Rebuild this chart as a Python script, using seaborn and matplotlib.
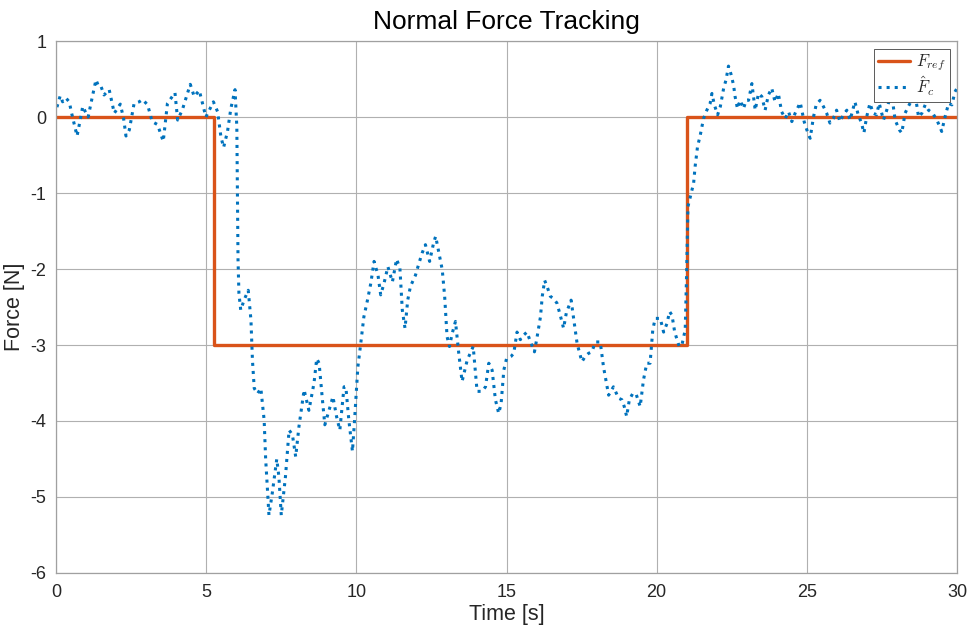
import matplotlib
matplotlib.use("Agg")
import matplotlib.pyplot as plt
import seaborn as sns
import numpy as np
import pandas as pd

# ---------------- data ----------------
ref_time = [0.0, 5.25, 21.0, 30.0]
ref_force = [0.0, -3.0, 0.0, 0.0]

est_time = [
    0.03, 0.14, 0.22, 0.33, 0.44, 0.52, 0.70, 0.80, 0.89, 1.00, 1.07, 1.20, 1.33, 1.42, 1.50,
    1.60, 1.77, 1.94, 2.14, 2.25, 2.33, 2.44, 2.60, 2.77, 2.88, 3.05, 3.20, 3.38, 3.57, 3.71,
    3.96, 4.05, 4.21, 4.47, 4.60, 4.77, 4.99, 5.24, 5.38, 5.49, 5.58, 5.71, 5.82, 5.96, 6.02,
    6.04, 6.06, 6.09, 6.15, 6.26, 6.40, 6.49, 6.54, 6.60, 6.71, 6.82, 6.93, 6.98, 7.09, 7.20,
    7.35, 7.42, 7.50, 7.64, 7.76, 7.87, 7.98, 8.09, 8.26, 8.42, 8.59, 8.68, 8.76, 8.87, 8.95,
    9.09, 9.22, 9.34, 9.45, 9.59, 9.65, 9.75, 9.87, 9.94, 10.05, 10.14, 10.25, 10.37, 10.48, 10.59,
    10.72, 10.81, 10.92, 11.05, 11.20, 11.34, 11.45, 11.53, 11.62, 11.71, 11.80, 11.97, 12.08, 12.19, 12.30,
    12.44, 12.57, 12.64, 12.75, 12.86, 12.94, 13.02, 13.10, 13.19, 13.30, 13.41, 13.52, 13.69, 13.89, 14.02,
    14.19, 14.30, 14.41, 14.52, 14.63, 14.74, 14.82, 14.91, 15.00, 15.15, 15.24, 15.35, 15.46, 15.57, 15.68,
    15.80, 15.93, 16.02, 16.13, 16.19, 16.27, 16.35, 16.46, 16.57, 16.68, 16.79, 16.90, 16.99, 17.15, 17.24,
    17.35, 17.51, 17.62, 17.73, 17.84, 17.96, 18.12, 18.23, 18.40, 18.56, 18.73, 18.84, 18.92, 19.00, 19.09,
    19.20, 19.31, 19.45, 19.56, 19.67, 19.78, 19.87, 19.95, 20.12, 20.23, 20.34, 20.43, 20.51, 20.60, 20.75,
    20.84, 20.95, 21.00, 21.04, 21.12, 21.23, 21.28, 21.36, 21.45, 21.56, 21.67, 21.78, 21.84, 21.92, 22.03,
    22.12, 22.23, 22.31, 22.39, 22.47, 22.56, 22.61, 22.69, 22.78, 22.89, 22.98, 23.06, 23.17, 23.28, 23.39,
    23.50, 23.61, 23.72, 23.83, 23.94, 24.05, 24.16, 24.28, 24.39, 24.50, 24.61, 24.78, 24.91, 25.00, 25.11,
    25.22, 25.31, 25.44, 25.55, 25.66, 25.77, 25.88, 25.99, 26.10, 26.22, 26.33, 26.44, 26.60, 26.71, 26.82,
    26.90, 26.99, 27.10, 27.21, 27.32, 27.41, 27.55, 27.66, 27.77, 27.82, 27.94, 28.08, 28.16, 28.27, 28.38,
    28.49, 28.60, 28.72, 28.83, 28.94, 29.05, 29.19, 29.33, 29.43, 29.49, 29.60, 29.72, 29.83, 29.93, 30.00,
]
est_force = [
    0.13, 0.28, 0.20, 0.25, 0.20, 0.05, -0.25, -0.05, 0.14, 0.05, 0.00, 0.25, 0.49, 0.40, 0.40,
    0.29, 0.36, 0.05, 0.17, -0.02, -0.25, -0.17, 0.18, 0.20, 0.23, 0.16, -0.06, -0.10, -0.32, 0.18,
    0.32, -0.04, 0.10, 0.43, 0.27, 0.35, 0.00, 0.20, 0.07, -0.26, -0.40, -0.19, 0.11, 0.36, -0.13,
    -1.00, -1.88, -2.32, -2.54, -2.41, -2.28, -2.67, -3.20, -3.57, -3.64, -3.57, -3.99, -4.50, -5.24, -4.95,
    -4.50, -4.73, -5.24, -4.73, -4.12, -4.18, -4.47, -4.07, -3.59, -3.86, -3.50, -3.18, -3.24, -3.72, -4.05,
    -3.86, -3.68, -3.94, -4.12, -3.55, -3.55, -3.99, -4.40, -3.99, -3.29, -3.00, -2.63, -2.41, -2.19, -1.90,
    -2.08, -2.34, -2.19, -1.97, -2.17, -1.87, -1.99, -2.54, -2.78, -2.41, -2.23, -2.08, -1.93, -1.79, -1.68,
    -1.90, -1.66, -1.57, -1.79, -2.01, -2.36, -2.89, -3.02, -2.85, -2.69, -3.11, -3.48, -3.20, -3.02, -3.61,
    -3.61, -3.55, -3.24, -3.33, -3.72, -3.90, -3.77, -3.33, -3.18, -3.15, -3.11, -2.83, -2.93, -2.87, -2.83,
    -2.96, -3.09, -2.89, -2.63, -2.36, -2.15, -2.23, -2.36, -2.39, -2.45, -2.61, -2.78, -2.58, -2.41, -2.67,
    -2.98, -3.22, -3.15, -3.11, -3.09, -2.96, -2.96, -3.29, -3.66, -3.55, -3.70, -3.72, -3.81, -3.94, -3.72,
    -3.64, -3.64, -3.81, -3.46, -3.24, -3.24, -2.80, -2.65, -2.65, -2.83, -2.72, -2.56, -2.61, -2.83, -3.02,
    -3.00, -2.80, -2.00, -1.18, -1.05, -0.87, -0.65, -0.39, -0.24, -0.02, 0.09, 0.18, 0.31, 0.16, 0.03,
    0.14, 0.38, 0.49, 0.67, 0.57, 0.42, 0.27, 0.11, 0.22, 0.11, 0.22, 0.22, 0.44, 0.09, 0.31,
    0.27, 0.09, 0.29, 0.38, 0.20, 0.31, 0.07, -0.02, 0.07, -0.06, 0.05, 0.19, -0.06, -0.17, -0.28,
    0.00, 0.16, 0.22, 0.14, 0.05, -0.08, -0.02, 0.09, -0.06, 0.03, 0.09, -0.04, 0.20, 0.03, -0.08,
    -0.21, 0.00, 0.18, 0.05, 0.03, 0.18, -0.04, 0.09, 0.27, 0.31, -0.04, -0.17, -0.21, 0.05, 0.14,
    0.22, 0.31, 0.00, 0.05, 0.16, 0.09, 0.05, -0.04, -0.13, -0.19, 0.00, 0.18, 0.16, 0.33, 0.38,
]

x_ticks = [0, 5, 10, 15, 20, 25, 30]
y_ticks = [1, 0, -1, -2, -3, -4, -5, -6]

ref_df = pd.DataFrame({"t": ref_time, "f": ref_force})
est_df = pd.DataFrame({"t": est_time, "f": est_force})

# ---------------- style ----------------
sns.set_theme(style="whitegrid")
plt.rcParams["font.family"] = ["Liberation Sans", "DejaVu Sans"]
plt.rcParams["mathtext.fontset"] = "cm"

fig = plt.figure(figsize=(9.71, 6.33), dpi=100)
ax = fig.add_axes([0.0577, 0.0948, 0.9279, 0.8404])

orange = "#D95319"
blue = "#0072BD"

sns.lineplot(data=ref_df, x="t", y="f", ax=ax, color=orange, linewidth=2.4,
             drawstyle="steps-post", estimator=None, sort=False, label=r"$F_{ref}$")
sns.lineplot(data=est_df, x="t", y="f", ax=ax, color=blue, linewidth=2.2,
             linestyle=":", estimator=None, sort=False, label=r"$\hat{F}_c$")

ax.set_xlim(0, 30)
ax.set_ylim(-6, 1)
ax.set_xticks(x_ticks)
ax.set_yticks(y_ticks)
ax.set_xticklabels([str(v) for v in x_ticks])
ax.set_yticklabels([str(v) for v in y_ticks])

ax.grid(True, color="#b0b0b0", linewidth=0.8)
ax.set_axisbelow(True)
for sp in ax.spines.values():
    sp.set_color("#a0a0a0")
    sp.set_linewidth(0.9)
ax.tick_params(axis="x", length=0, labelsize=13, colors="#262626", pad=8)
ax.tick_params(axis="y", length=0, labelsize=13, colors="#262626", pad=7)

ax.set_title("Normal Force Tracking", fontsize=19, color="black", pad=9)
ax.set_xlabel("Time [s]", fontsize=15.5, color="#262626", labelpad=2)
ax.set_ylabel("Force [N]", fontsize=15.5, color="#262626", labelpad=4)

leg = ax.legend(loc="upper right", fontsize=12, frameon=True, fancybox=False,
                framealpha=1.0, edgecolor="#404040", borderpad=0.25, handlelength=1.9,
                handletextpad=0.35, labelspacing=0.05, borderaxespad=0.45)
leg.get_frame().set_linewidth(0.6)

fig.savefig("out.png", dpi=100)
